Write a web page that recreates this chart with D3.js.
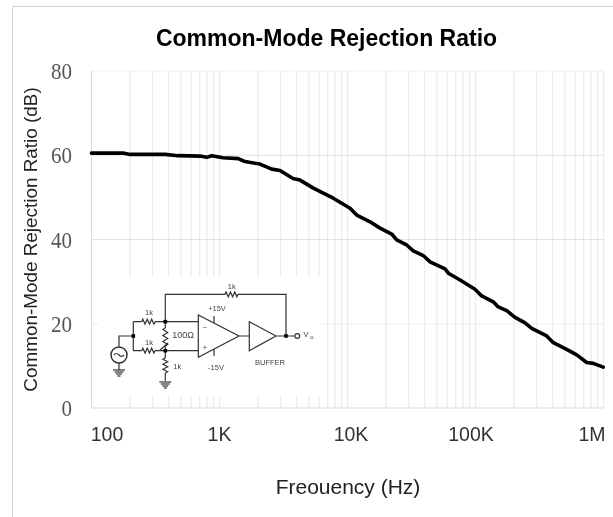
<!DOCTYPE html>
<html><head><meta charset="utf-8">
<script src="https://cdnjs.cloudflare.com/ajax/libs/d3/7.8.5/d3.min.js"></script>
<style>html,body{margin:0;padding:0;background:#fff}svg{display:block}</style></head>
<body><svg id="c" width="613" height="517"></svg>
<script>
const frequency=[100,179,200,375,474,705,794,869,1064,1403,1581,2070,2559,2972,3750,4256,5408,7745,10470,11803,14997,17947,22147,24210,28970,32660,39090,44160,57810,61380,75740,99100,111700,137700,150700,175400,203700,243800,274800,359700,405500,515000,618000,739000,832000,995000];
const cmrr=[60.5,60.5,60.2,60.2,59.9,59.8,59.5,59.9,59.4,59.2,58.5,57.9,56.7,56.4,54.5,54.1,52.2,49.8,47.4,45.8,44.2,42.7,41.3,39.9,38.7,37.3,36.2,34.7,33.0,32.0,30.4,28.2,26.6,25.2,24.0,23.1,21.5,20.2,18.9,17.1,15.5,13.9,12.6,10.8,10.6,9.7];
const yTicks=[0,20,40,60,80];
const xTickValues=[100,1000,10000,100000,1000000];
const xTickLabels=["100","1K","10K","100K","1M"];
const xTickShift=[15.5,0,3.5,-4.5,-11.5];
const titleText="Common-Mode Rejection Ratio", xTitle="Freouency (Hz)", yTitle="Common-Mode Rejection Ratio (dB)";

const svg=d3.select("#c");
const defs=svg.append("defs");
const blur=(id,s)=>defs.append("filter").attr("id",id).attr("x","-5%").attr("y","-5%").attr("width","110%").attr("height","110%").append("feGaussianBlur").attr("stdDeviation",s);
blur("b1",0.7);blur("b2",0.7);blur("bt",0.35);

const x=d3.scaleLog().domain([100,1e6]).range([91.5,603.5]);
const y=d3.scaleLinear().domain([0,80]).range([408,71]);

// outer frame (top and left edges)
svg.append("path").attr("d","M12.5,517V6.5H613").attr("fill","none").attr("stroke","#d2d2d2").attr("stroke-width",1);

// minor + major log grid
const logTicks=x.ticks().filter(v=>v>100);
svg.append("g").selectAll("line").data(logTicks).join("line")
 .attr("x1",d=>x(d)).attr("x2",d=>x(d)).attr("y1",71).attr("y2",408)
 .attr("stroke","#ececec").attr("stroke-width",1.3);
svg.append("g").selectAll("line").data(yTicks).join("line")
 .attr("x1",91.5).attr("x2",603.5).attr("y1",d=>y(d)).attr("y2",d=>y(d))
 .attr("stroke",d=>d===0?"#d9d9d9":d===80?"#f0f0f0":d===20?"#ececec":"#e2e2e2").attr("stroke-width",1.2);
svg.append("line").attr("x1",91.5).attr("x2",91.5).attr("y1",71).attr("y2",408).attr("stroke","#dcdcdc").attr("stroke-width",1.2);

// curve
svg.append("path").datum(frequency.map((f,i)=>[f,cmrr[i]]))
 .attr("d",d3.line().x(d=>x(d[0])).y(d=>y(d[1])))
 .attr("fill","none").attr("stroke","#000").attr("stroke-width",3.6)
 .attr("stroke-linejoin","round").attr("stroke-linecap","round").attr("filter","url(#bt)");

// pasted schematic
svg.append("rect").attr("x",98).attr("y",277).attr("width",222).attr("height",119).attr("fill","#fff");
const s=svg.append("g").attr("fill","none").attr("stroke","#333").attr("stroke-width",1.2).attr("filter","url(#b1)");
const wire=d=>s.append("path").attr("d",d);
const zigH=(x0,x1,yy)=>{const n=6,st=(x1-x0)/n;let p=`M${x0},${yy}`;for(let i=0;i<n;i++)p+=`L${x0+st*(i+.5)},${yy+(i%2?2.4:-2.4)}`;return p+`L${x1},${yy}`;};
const zigV=(y0,y1,xx)=>{const n=6,st=(y1-y0)/n;let p=`M${xx},${y0}`;for(let i=0;i<n;i++)p+=`L${xx+(i%2?2.4:-2.4)},${y0+st*(i+.5)}`;return p+`L${xx},${y1}`;};
const ground=(gx,gy)=>{[[6,0],[4.5,2],[3,4],[1.5,6]].forEach(([w,o])=>wire(`M${gx-w},${gy+o}H${gx+w}`));};
wire("M165.3,321.7V294.3H225M238,294.3H286V336");
wire(zigH(225,238,294.3));
wire("M119,346.7V336H133.3M133.3,321.7V350.7M133.3,321.7H141.7M155,321.7H198.3M133.3,350.7H141.7M155,350.7H198.3");
wire(zigH(141.7,155,321.7));wire(zigH(141.7,155,350.7));
wire("M165.3,321.7V328");wire(zigV(328,346,165.3));wire("M165.3,346V358");wire(zigV(358,373,165.3));wire("M165.3,373V381");
wire("M160,350L168,343");
ground(165.3,382);
s.append("circle").attr("cx",119).attr("cy",355).attr("r",8).attr("stroke-width",1.5);
wire("M114,355Q116.5,352 119,355T124,355");
wire("M119,363V370");ground(119,370);
wire("M198.3,315V357.3L239,336ZM214,323V316M214,349V356M239,336H249.3");
wire("M249.3,321.7V350.7L276,336ZM276,336H295");
s.append("circle").attr("cx",297.3).attr("cy",336).attr("r",2.4);
s.selectAll("rect.n").data([[133.3,336],[165.3,321.7],[165.3,350.7],[286,336]]).join("rect")
 .attr("x",d=>d[0]-1.8).attr("y",d=>d[1]-1.8).attr("width",3.6).attr("height",3.6).attr("fill","#000").attr("stroke","none");
const lab=svg.append("g").attr("font-family","Liberation Sans").attr("font-size",7.5).attr("fill","#444").attr("text-anchor","middle").attr("filter","url(#b2)");
[["1k",231.7,289],["1k",149,314.5],["1k",149,344.5],["100Ω",183,338,9],["1k",177.3,368.5],["+15V",217,310.5],["-15V",216,370],["BUFFER",270,364.5],["−",205,330],["+",205,350],["V",306,337],["o",312,339,6]]
 .forEach(([t,a,b,fs])=>lab.append("text").attr("x",a).attr("y",b).attr("font-size",fs||7.5).text(t));

// text
const txt=svg.append("g").attr("filter","url(#bt)");
txt.append("text").attr("x",326.5).attr("y",45.5).attr("text-anchor","middle")
 .attr("font-family","Liberation Sans").attr("font-weight","bold").attr("font-size",23).attr("fill","#000").text(titleText);
txt.selectAll("text.yt").data(yTicks).join("text").attr("class","yt")
 .attr("x",72).attr("y",d=>y(d)+8).attr("text-anchor","end")
 .attr("font-family","Liberation Serif").attr("font-size",23.5).attr("fill","#555")
 .attr("textLength",d=>d===0?10.5:21).attr("lengthAdjust","spacingAndGlyphs").text(d=>d);
txt.selectAll("text.xt").data(xTickValues).join("text").attr("class","xt")
 .attr("x",(d,i)=>x(d)+xTickShift[i]).attr("y",441).attr("text-anchor","middle")
 .attr("font-family","Liberation Sans").attr("font-size",19.5).attr("fill","#333").text((d,i)=>xTickLabels[i]);
txt.append("text").attr("x",348).attr("y",494).attr("text-anchor","middle")
 .attr("font-family","Liberation Sans").attr("font-size",21).attr("fill","#222").text(xTitle);
txt.append("text").attr("transform","translate(36.5,239.5) rotate(-90)").attr("text-anchor","middle")
 .attr("font-family","Liberation Sans").attr("font-size",18.9).attr("fill","#222").text(yTitle);
</script></body></html>
